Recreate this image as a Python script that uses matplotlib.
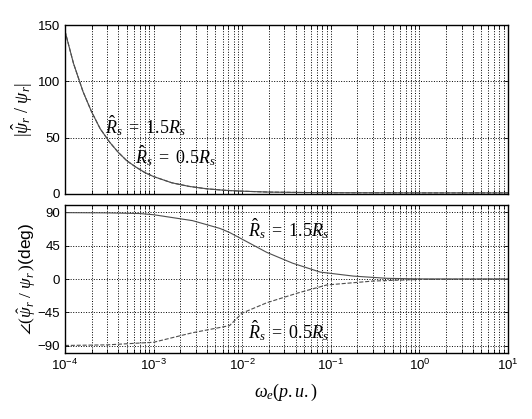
import numpy as np
from matplotlib import pyplot as plt
from matplotlib.ticker import FuncFormatter, LogLocator, NullFormatter

# значения
w_mag = [1e-4, 1.25e-4, 1.6e-4, 2e-4, 2.5e-4, 3.2e-4, 4e-4, 5e-4, 6.3e-4, 8e-4,
         1e-3, 1.6e-3, 2.5e-3, 4e-3, 6.3e-3, 1e-2, 2e-2, 5e-2, 1e-1, 1, 10]
mag_hi = [145, 116, 91, 73, 58, 46, 37, 29.5, 24, 19,
          15.5, 10, 6.8, 4.6, 3.3, 2.5, 1.7, 1.3, 1.15, 1.0, 1.0]
mag_lo = [145, 116, 91, 73, 58, 46, 37, 29.5, 24, 19,
          15.5, 10, 6.8, 4.6, 3.3, 2.5, 1.7, 1.3, 1.15, 1.0, 1.0]

w_hi = [1e-4, 3e-4, 7e-4, 1e-3, 2.75e-3, 5.6e-3, 7.2e-3, 1.15e-2, 1.9e-2, 3.7e-2,
        7.6e-2, 0.18, 0.43, 1, 10]
ph_hi = [89.8, 89.5, 88.6, 87, 79, 68.5, 63, 50, 36, 21.5, 9.4, 4, 1, 0.2, 0]

w_lo = [1e-4, 3e-4, 7e-4, 1e-3, 2.75e-3, 7.2e-3, 1e-2, 1.9e-2, 4.2e-2, 9e-2,
        0.3, 1, 10]
ph_lo = [-89.8, -89, -86.5, -85.5, -72.6, -63, -46, -32, -19, -8, -2.7, -0.5, 0]

plt.rcParams.update({
    'font.family': 'Liberation Sans',
    'font.size': 9.5,
    'mathtext.fontset': 'custom',
    'mathtext.rm': 'Liberation Serif',
    'mathtext.it': 'Liberation Serif:italic',
    'mathtext.sf': 'Liberation Sans',
    'xtick.direction': 'in',
    'ytick.direction': 'in',
    'xtick.top': True,
    'ytick.right': True,
})

fig = plt.figure(figsize=(5.32, 4.19), dpi=100)
ax1 = fig.add_axes([0.122, 0.537, 0.833, 0.403])
ax2 = fig.add_axes([0.122, 0.1575, 0.833, 0.353])

line_kw = dict(color='0.3', linewidth=0.8)

ax1.semilogx(w_mag, mag_hi, '-', **line_kw)
ax1.semilogx(w_mag, mag_lo, '--', **line_kw)
ax2.semilogx(w_hi, ph_hi, '-', **line_kw)
ax2.semilogx(w_lo, ph_lo, '--', **line_kw)

for ax in (ax1, ax2):
    ax.set_xlim(1e-4, 10)
    ax.xaxis.set_major_locator(LogLocator(base=10, numticks=10))
    ax.xaxis.set_minor_locator(LogLocator(base=10, subs=np.arange(2, 10), numticks=10))
    ax.xaxis.set_minor_formatter(NullFormatter())
    ax.grid(which='major', color='black', linestyle=':', linewidth=0.7)
    ax.grid(which='minor', axis='x', color='black', linestyle=':', linewidth=0.7)
    ax.tick_params(which='both', length=3, width=0.6)
    for s in ax.spines.values():
        s.set_linewidth(1.0)

ax1.set_ylim(0, 150)
ax1.set_yticks([0, 50, 100, 150])
ax1.xaxis.set_major_formatter(NullFormatter())
ax1.set_ylabel(r'$|\hat{\psi}_r\ /\ \psi_r|$', fontsize=13, labelpad=2)

ax2.set_ylim(-100, 100)
ax2.set_yticks([-90, -45, 0, 45, 90])
ax2.xaxis.set_major_formatter(FuncFormatter(lambda v, p: r'$\mathsf{10^{%d}}$' % round(np.log10(v))))
ax2.set_ylabel(r'$\angle(\hat{\psi}_r\ /\ \psi_r\,)\mathsf{(deg)}$', fontsize=12.5, labelpad=0)
ax2.set_xlabel(r'$\omega_e(p.u.)$', fontsize=13, labelpad=6)

txt_kw = dict(fontsize=13, va='center', ha='left')
ax1.text(2.8e-4, 61, r'$\hat{R}_s\ =\ 1.5R_s$', **txt_kw)
ax1.text(6.1e-4, 34, r'$\hat{R}_s\ =\ 0.5R_s$', **txt_kw)
ax2.text(1.16e-2, 68, r'$\hat{R}_s\ =\ 1.5R_s$', **txt_kw)
ax2.text(1.16e-2, -69, r'$\hat{R}_s\ =\ 0.5R_s$', **txt_kw)

plt.savefig('out.png', dpi=100)
